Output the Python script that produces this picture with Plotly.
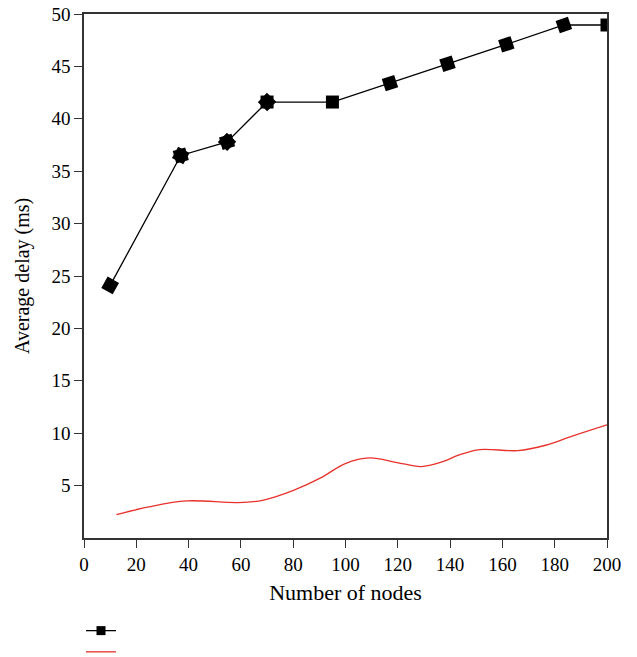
import plotly.graph_objects as go

# Data
black_x = [10, 37, 54.7, 70, 95, 117, 139, 161.5, 183.5, 200]
black_y = [24.1, 36.5, 37.8, 41.6, 41.6, 43.4, 45.25, 47.1, 48.95, 48.95]

red_x = [12.4, 24.7, 39.2, 59, 68.3, 80.1, 90.7, 99.9, 109.2, 119.7, 129, 136.9, 143.5, 151.4, 165.9, 176.5, 187, 200]
red_y = [2.23, 2.96, 3.54, 3.38, 3.6, 4.55, 5.76, 7.1, 7.64, 7.2, 6.82, 7.26, 7.93, 8.44, 8.34, 8.85, 9.75, 10.8]

x_ticks = [0, 20, 40, 60, 80, 100, 120, 140, 160, 180, 200]
y_ticks = [5, 10, 15, 20, 25, 30, 35, 40, 45, 50]

x_title = "Number of nodes"
y_title = "Average delay (ms)"

# marker orientation (style)
angles_in = [-61, -61, -16, -46, 0, -18, -18, -18, -19, 0]
angles_out = [-16, -46, 0]

FONT = "Liberation Serif"
RED = "#e8312a"

fig = go.Figure()
fig.add_trace(go.Scatter(
    x=black_x, y=black_y, mode="lines+markers", showlegend=False,
    line=dict(color="black", width=1.3),
    marker=dict(symbol="square", size=13, color="black", angle=angles_in),
))
fig.add_trace(go.Scatter(
    x=black_x[1:4], y=black_y[1:4], mode="markers", showlegend=False,
    marker=dict(symbol="square", size=13, color="black", angle=angles_out),
))
fig.add_trace(go.Scatter(
    x=red_x, y=red_y, mode="lines", showlegend=False,
    line=dict(color=RED, width=1.3, shape="spline", smoothing=1.0),
))
# legend entries (no text)
fig.add_trace(go.Scatter(
    x=[None], y=[None], mode="lines+markers", name="",
    line=dict(color="black", width=1.3),
    marker=dict(symbol="square", size=9, color="black"),
))
fig.add_trace(go.Scatter(
    x=[None], y=[None], mode="lines", name="",
    line=dict(color=RED, width=1.3),
))

fig.update_layout(
    width=637, height=657,
    margin=dict(l=84, r=30, t=14, b=119, autoexpand=False),
    paper_bgcolor="white", plot_bgcolor="white",
    font=dict(family=FONT, size=19, color="black"),
    showlegend=True,
    legend=dict(x=-3 / 523, y=-0.147, xanchor="left", yanchor="top",
                bgcolor="rgba(0,0,0,0)", font=dict(size=14), maxheight=1,
                itemwidth=30, tracegroupgap=0, borderwidth=0),
    annotations=[dict(
        text=y_title, xref="paper", yref="paper", x=-62 / 523, y=0.5,
        xanchor="center", yanchor="middle", textangle=-90, showarrow=False,
        font=dict(size=20, family=FONT, color="black"),
    )],
)
fig.update_xaxes(
    range=[0, 200], tickvals=x_ticks, ticks="outside", ticklen=8, tickwidth=1,
    tickcolor="#333", showline=True, linecolor="#333", linewidth=1.5, mirror=True,
    showgrid=False, zeroline=False, automargin=False, ticklabeloverflow="allow",
    title=dict(text=x_title, font=dict(size=22), standoff=11),
)
fig.update_yaxes(
    range=[0, 50], tickvals=y_ticks, ticks="outside", ticklen=8, tickwidth=1,
    tickcolor="#333", showline=True, linecolor="#333", linewidth=1.5, mirror=True,
    showgrid=False, zeroline=False, automargin=False, ticklabeloverflow="allow",
)

# remove the default 8px page margin so the figure fills the window
fig.write_html("out.html", config={"displayModeBar": False},
               post_script="document.body.style.margin='0px';")
